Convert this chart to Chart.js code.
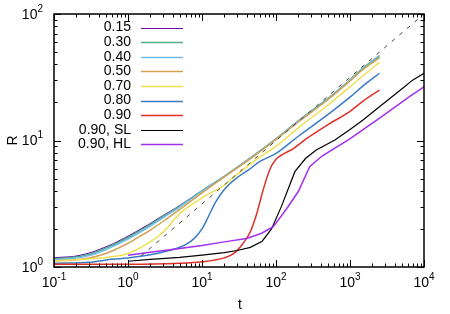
<!DOCTYPE html>
<html>
<head>
<meta charset="utf-8">
<script src="https://cdn.jsdelivr.net/npm/chart.js@4/dist/chart.umd.min.js"></script>
<style>
  body { margin: 0; background: #fff; }
  #wrap { width: 450px; height: 314px; }
</style>
</head>
<body>
<div id="wrap"><canvas id="rChart"></canvas></div>
<script>
// data (t, R)
const tTop = [0.1, 0.2, 0.3, 0.5, 0.7, 1, 1.5, 2, 3, 5, 10, 20, 50, 100, 200, 500, 1000, 1500, 2500];
const R015 = [1.18, 1.22, 1.29, 1.44, 1.57, 1.75, 2.0, 2.2, 2.55, 3.05, 4.0, 5.2, 7.6, 10.3, 14.2, 21.2, 30, 37, 46];
const R030 = [1.16, 1.2, 1.26, 1.41, 1.54, 1.71, 1.96, 2.16, 2.52, 3.03, 4.0, 5.2, 7.6, 10.3, 14.3, 21.4, 30.2, 37.5, 47];
const R040 = [1.14, 1.18, 1.23, 1.37, 1.5, 1.66, 1.9, 2.1, 2.46, 2.98, 3.98, 5.2, 7.6, 10.3, 14.2, 21.2, 30, 37, 46];
const R050 = [1.12, 1.14, 1.18, 1.28, 1.39, 1.54, 1.77, 1.96, 2.3, 2.85, 3.85, 5.15, 7.5, 10.2, 14.0, 21, 29.6, 36.5, 45];

const t070 = [0.1, 0.2, 0.5, 1, 1.6, 2, 2.7, 3.5, 4.5, 6, 7.6, 10, 13, 18, 30, 60, 100, 200, 500, 1000, 1500, 2500];
const R070 = [1.12, 1.14, 1.19, 1.28, 1.46, 1.58, 1.79, 2.08, 2.48, 2.88, 3.17, 3.52, 3.85, 4.25, 5.4, 7.4, 9.0, 12.6, 19, 26.6, 32.5, 41.5];

const t080 = [0.1, 0.3, 0.6, 1, 2, 4.5, 6, 8, 10, 12, 15, 20, 30, 45, 60, 100, 200, 500, 1000, 1500, 2500];
const R080 = [1.07, 1.09, 1.15, 1.18, 1.25, 1.4, 1.5, 1.7, 2.0, 2.45, 3.2, 4.1, 5.1, 6.0, 6.8, 7.9, 10.8, 16, 22, 27, 34];

const t090 = [0.1, 1, 5, 10, 20, 27, 36, 45, 55, 67, 82, 100, 130, 170, 250, 500, 1000, 1500, 2500];
const R090 = [1.05, 1.05, 1.07, 1.1, 1.18, 1.28, 1.54, 1.9, 2.65, 4.06, 5.85, 7.1, 7.9, 8.6, 10.2, 13.3, 17, 20.5, 25];

const tSL = [1, 2, 5, 10, 20, 30, 45, 65, 87, 118, 180, 250, 350, 625, 1000, 1500, 2500, 5000, 7000, 10000];
const RSL = [1.11, 1.15, 1.19, 1.24, 1.3, 1.35, 1.43, 1.6, 2.0, 3.0, 5.67, 7.2, 8.4, 10.1, 12.2, 14.5, 18.5, 25.5, 30, 34];

const tHL = [1, 2, 5, 10, 20, 40, 64, 92, 140, 200, 285, 415, 600, 950, 1500, 2300, 4000, 6500, 10000];
const RHL = [1.24, 1.31, 1.4, 1.48, 1.58, 1.68, 1.85, 2.08, 2.9, 3.95, 6.2, 7.5, 8.6, 10.1, 12.2, 14.5, 18.3, 22.4, 26.6];

// guide line R ~ t^(1/2)
const tGuide = [1.5, 10000];
const RGuide = [1.22, 100];

const legendLabels = ['0.15', '0.30', '0.40', '0.50', '0.70', '0.80', '0.90', '0.90, SL', '0.90, HL'];
const xTickExp = ['-1', '0', '1', '2', '3', '4'];
const yTickExp = ['0', '1', '2'];

const FONT = '"Liberation Sans", Arial, sans-serif';

function pts(ts, rs) {
    return ts.map((t, i) => ({ x: t, y: rs[i] }));
}

const series = [
    { data: pts(tTop, R015), color: '#6e0cae', w: 1.2 },
    { data: pts(tTop, R030), color: '#4fae84', w: 1.5 },
    { data: pts(tTop, R040), color: '#72bdea', w: 1.5 },
    { data: pts(tTop, R050), color: '#d2a050', w: 1.5 },
    { data: pts(t070, R070), color: '#f0e050', w: 1.5 },
    { data: pts(t080, R080), color: '#3a7cc4', w: 1.5 },
    { data: pts(t090, R090), color: '#e0302a', w: 1.5 },
    { data: pts(tSL, RSL), color: '#000000', w: 1.2 },
    { data: pts(tHL, RHL), color: '#a030f0', w: 1.5 }
];

const datasets = series.map((s, i) => ({
    label: legendLabels[i],
    data: s.data,
    borderColor: s.color,
    backgroundColor: s.color,
    borderWidth: s.w,
    pointRadius: 0,
    fill: false,
    tension: 0,
    cubicInterpolationMode: i < 7 ? 'monotone' : 'default',
    order: 20 - i // later series on top, like gnuplot
}));
datasets.push({
    label: 'guide',
    data: pts(tGuide, RGuide),
    borderColor: '#444',
    borderWidth: 1,
    borderDash: [4, 6],
    pointRadius: 0,
    fill: false,
    order: 0
});

function drawPow(ctx, exp, x, y, align) {
    ctx.font = '14px ' + FONT;
    const wb = ctx.measureText('10').width;
    ctx.font = '10px ' + FONT;
    const we = ctx.measureText(exp).width;
    const x0 = align === 'center' ? x - (wb + we) / 2 : x - wb - we;
    ctx.textAlign = 'left';
    ctx.textBaseline = 'middle';
    ctx.font = '14px ' + FONT;
    ctx.fillText('10', x0, y);
    ctx.font = '10px ' + FONT;
    ctx.fillText(exp, x0 + wb, y - 6);
}

// frame, mirrored ticks, tick labels, axis titles and legend
const decor = {
    id: 'decor',
    afterDraw(chart) {
        const { ctx, chartArea: a, scales: { x, y } } = chart;
        ctx.save();
        ctx.strokeStyle = '#000';
        ctx.fillStyle = '#000';
        ctx.lineWidth = 1;
        ctx.beginPath();
        for (let e = -1; e <= 4; e++) {
            for (let m = 1; m <= 9; m++) {
                const v = m * Math.pow(10, e);
                if (v > 10000) break;
                const px = Math.round(x.getPixelForValue(v)) + 0.5;
                const len = m === 1 ? 7 : 3.5;
                ctx.moveTo(px, a.bottom); ctx.lineTo(px, a.bottom - len);
                ctx.moveTo(px, a.top); ctx.lineTo(px, a.top + len);
            }
        }
        for (let e = 0; e <= 2; e++) {
            for (let m = 1; m <= 9; m++) {
                const v = m * Math.pow(10, e);
                if (v > 100) break;
                const py = Math.round(y.getPixelForValue(v)) + 0.5;
                const len = m === 1 ? 7 : 3.5;
                ctx.moveTo(a.left, py); ctx.lineTo(a.left + len, py);
                ctx.moveTo(a.right, py); ctx.lineTo(a.right - len, py);
            }
        }
        ctx.stroke();
        ctx.lineWidth = 1.5;
        ctx.strokeRect(a.left, a.top, a.right - a.left, a.bottom - a.top);

        xTickExp.forEach(exp => {
            drawPow(ctx, exp, x.getPixelForValue(Math.pow(10, +exp)), a.bottom + 16, 'center');
        });
        yTickExp.forEach(exp => {
            drawPow(ctx, exp, a.left - 11, y.getPixelForValue(Math.pow(10, +exp)) + 1, 'right');
        });

        ctx.font = '14px ' + FONT;
        ctx.textAlign = 'center';
        ctx.textBaseline = 'middle';
        ctx.fillText('t', (a.left + a.right) / 2 + 1, 305);
        ctx.save();
        ctx.translate(13, (a.top + a.bottom) / 2);
        ctx.rotate(-Math.PI / 2);
        ctx.fillText('R', 0, 0);
        ctx.restore();

        // legend: label right aligned, then line sample
        ctx.textAlign = 'right';
        legendLabels.forEach((lab, i) => {
            const ly = 27.5 + i * 14.6;
            ctx.fillStyle = '#000';
            ctx.fillText(lab, 131, ly);
            ctx.strokeStyle = series[i].color;
            ctx.lineWidth = series[i].w;
            ctx.beginPath();
            ctx.moveTo(141, Math.round(ly) + 0.5);
            ctx.lineTo(183, Math.round(ly) + 0.5);
            ctx.stroke();
        });
        ctx.restore();
    }
};

function setupChart() {
    const ctx = document.getElementById('rChart').getContext('2d');
    new Chart(ctx, {
        type: 'line',
        data: { datasets: datasets },
        options: {
            responsive: true,
            maintainAspectRatio: false,
            animation: false,
            layout: { padding: { left: 54, right: 26, top: 14, bottom: 47 } },
            scales: {
                x: { type: 'logarithmic', min: 0.1, max: 10000, display: false },
                y: { type: 'logarithmic', min: 1, max: 100, display: false }
            },
            plugins: {
                legend: { display: false },
                tooltip: { enabled: false }
            }
        },
        plugins: [decor]
    });
}

setupChart();
</script>
</body>
</html>
